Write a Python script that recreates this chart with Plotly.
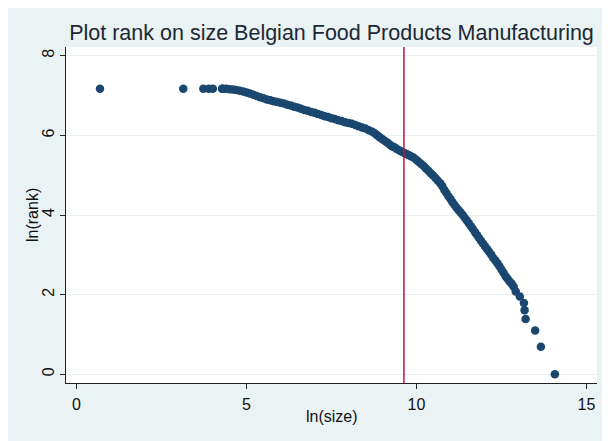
import plotly.graph_objects as go

# ln(size), ln(rank) pairs
ln_size = [
    0.69, 3.14, 3.73, 3.89, 4.01,
    4.28, 4.30, 4.40, 4.50, 4.60, 4.70, 4.80, 4.90, 5.00, 5.10, 5.20, 5.30, 5.40, 5.50,
    5.60, 5.70, 5.80, 5.90, 6.00, 6.10, 6.20, 6.30, 6.40, 6.50, 6.60, 6.70, 6.80, 6.90,
    7.00, 7.10, 7.20, 7.30, 7.40, 7.50, 7.60, 7.70, 7.80, 7.90, 8.00, 8.10, 8.20, 8.30,
    8.40, 8.50, 8.60, 8.70, 8.78, 8.85, 8.92, 9.00, 9.07, 9.14, 9.21, 9.28, 9.35, 9.42,
    9.50, 9.57, 9.64, 9.71, 9.78, 9.85, 9.92, 10.00, 10.07, 10.14, 10.21, 10.28, 10.35,
    10.42, 10.49, 10.56, 10.63, 10.70, 10.76, 10.82, 10.88, 10.94, 11.00, 11.06, 11.12,
    11.18, 11.24, 11.30, 11.36, 11.42, 11.48, 11.54, 11.60, 11.66, 11.72, 11.78, 11.84,
    11.90, 11.96, 12.02, 12.08, 12.14, 12.20, 12.26, 12.32, 12.38, 12.44, 12.50, 12.56,
    12.62, 12.68, 12.74, 12.80,
    12.86, 12.92, 13.04, 13.16, 13.18, 13.21, 13.49, 13.66, 14.07,
]
ln_rank = [
    7.17, 7.17, 7.17, 7.17, 7.17,
    7.17, 7.17, 7.17, 7.16, 7.15, 7.14, 7.12, 7.10, 7.08, 7.05, 7.02, 6.99, 6.96, 6.93,
    6.90, 6.88, 6.86, 6.84, 6.82, 6.80, 6.77, 6.75, 6.72, 6.70, 6.67, 6.64, 6.62, 6.59,
    6.57, 6.54, 6.51, 6.48, 6.46, 6.43, 6.41, 6.38, 6.36, 6.33, 6.31, 6.29, 6.26, 6.23,
    6.20, 6.17, 6.13, 6.09, 6.05, 6.00, 5.95, 5.90, 5.86, 5.82, 5.77, 5.73, 5.70, 5.66,
    5.62, 5.59, 5.56, 5.53, 5.50, 5.47, 5.44, 5.38, 5.33, 5.28, 5.23, 5.17, 5.11,
    5.05, 4.99, 4.93, 4.86, 4.80, 4.72, 4.63, 4.55, 4.47, 4.40, 4.32, 4.25,
    4.18, 4.12, 4.06, 4.00, 3.93, 3.86, 3.79, 3.72, 3.65, 3.57, 3.50, 3.42,
    3.35, 3.28, 3.21, 3.14, 3.07, 3.00, 2.92, 2.86, 2.79, 2.71, 2.63, 2.55,
    2.46, 2.40, 2.33, 2.27,
    2.20, 2.08, 1.95, 1.79, 1.61, 1.39, 1.10, 0.69, 0.00,
]
cutoff_ln_size = 9.63
x_ticks = [0, 5, 10, 15]
y_ticks = [0, 2, 4, 6, 8]

title_text = "Plot rank on size Belgian Food Products Manufacturing"
x_title = "ln(size)"
y_title = "ln(rank)"

navy = "#1a476f"
bg = "#eaf2f3"
font = "Liberation Sans, Arial, sans-serif"

W, H = 610, 441
ML, MR, MT, MB = 58, 21, 39, 66
PW, PH = W - ML - MR, H - MT - MB

fig = go.Figure()
fig.add_trace(go.Scatter(
    x=ln_size, y=ln_rank, mode="markers",
    marker=dict(color=navy, size=8.5, line=dict(width=0)),
    showlegend=False, hoverinfo="x+y",
))
fig.add_shape(type="line", xref="x", yref="paper", x0=cutoff_ln_size, x1=cutoff_ln_size,
              y0=0, y1=1, line=dict(color="#c8143c", width=1.5), layer="above")
fig.add_annotation(text=y_title, textangle=-90, showarrow=False,
                   xref="paper", yref="paper", x=-34 / PW, y=0.5,
                   xanchor="center", yanchor="middle",
                   font=dict(size=16, family=font, color="#111111"))
fig.add_annotation(text=x_title, showarrow=False,
                   xref="paper", yref="paper", x=0.5, y=-33 / PH,
                   xanchor="center", yanchor="middle",
                   font=dict(size=16, family=font, color="#111111"))

fig.update_layout(
    width=W, height=H,
    margin=dict(l=ML, r=MR, t=MT, b=MB),
    paper_bgcolor=bg, plot_bgcolor="white",
    font=dict(family=font, color="#111111", size=16),
    title=dict(text=title_text, x=0.5, xref="paper", xanchor="center",
               y=1 - 32 / H, yref="container", yanchor="bottom",
               font=dict(size=21.5, color="#1c2833", family=font)),
    xaxis=dict(range=[-0.31, 15.31], tickvals=x_ticks, showgrid=False, zeroline=False,
               automargin=False,
               showline=True, linecolor="#222222", linewidth=1,
               ticks="outside", ticklen=5, tickcolor="#222222",
               tickfont=dict(size=16), ticklabelstandoff=2),
    yaxis=dict(range=[-0.22, 8.22], tickvals=y_ticks, showgrid=True, gridcolor=bg, gridwidth=1,
               automargin=False,
               zeroline=False, showline=True, linecolor="#222222", linewidth=1,
               ticks="outside", ticklen=5, tickcolor="#222222", tickangle=-90,
               tickfont=dict(size=16), ticklabelstandoff=0),
)
fig.write_html("out.html")
